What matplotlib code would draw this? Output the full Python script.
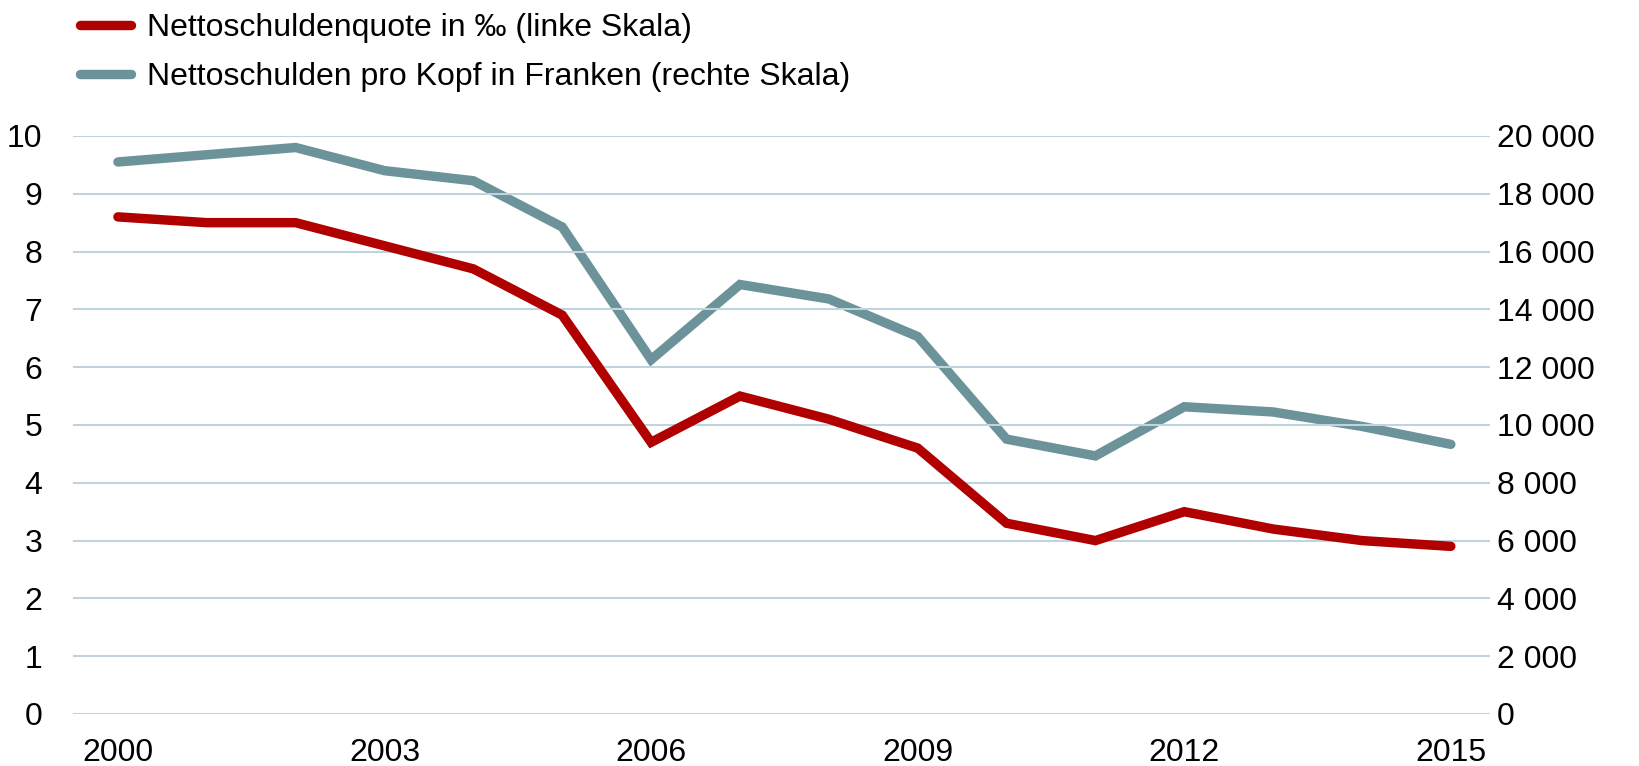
import matplotlib
matplotlib.use("Agg")
import matplotlib.pyplot as plt
from matplotlib.ticker import FuncFormatter

years = list(range(2000, 2016))
quote = [8.6, 8.5, 8.5, 8.1, 7.7, 6.9, 4.7, 5.5, 5.1, 4.6, 3.3, 3.0, 3.5, 3.2, 3.0, 2.9]
pro_kopf = [19100, 19350, 19600, 18800, 18450, 16850, 12260, 14860, 14360, 13060,
            9510, 8930, 10630, 10450, 9950, 9330]
x_ticks = [2000, 2003, 2006, 2009, 2012, 2015]
label_quote = "Nettoschuldenquote in ‰ (linke Skala)"
label_kopf = "Nettoschulden pro Kopf in Franken (rechte Skala)"

RED = "#B00000"
TEAL = "#6C939A"
GRID = "#BFD4DE"

plt.rcParams['font.family'] = ['Liberation Sans', 'DejaVu Sans']
FS = 23

fig = plt.figure(figsize=(16.4, 7.66), dpi=100)
ax = fig.add_axes([0.0445, 0.0679, 0.864, 0.7546])
ax2 = ax.twinx()

ax.set_xlim(1999.494, 2015.44)
ax.set_ylim(0, 10)
ax2.set_ylim(0, 20000)

ax.set_yticks(range(0, 11))
ax2.set_yticks(range(0, 20001, 2000))
ax2.yaxis.set_major_formatter(FuncFormatter(lambda v, p: f"{int(v):,}".replace(",", " ")))
ax.set_xticks(x_ticks)

for a in (ax, ax2):
    for s in a.spines.values():
        s.set_visible(False)
    a.tick_params(length=0, labelsize=FS)
ax.tick_params(axis='y', pad=22)
ax.tick_params(axis='x', pad=17)
ax2.tick_params(axis='y', pad=5)

ax.grid(axis='y', color=GRID, linewidth=1.5)
ax.set_axisbelow(True)

LW = 6.8
l2, = ax2.plot(years, pro_kopf, color=TEAL, linewidth=LW, solid_capstyle='round',
               solid_joinstyle='miter', label=label_kopf, clip_on=False)
l1, = ax.plot(years, quote, color=RED, linewidth=LW, solid_capstyle='round',
              solid_joinstyle='miter', label=label_quote, clip_on=False)
ax.set_zorder(ax2.get_zorder() + 1)
ax.patch.set_visible(False)

leg = fig.legend([l1, l2], [label_quote, label_kopf], loc='upper left',
                 bbox_to_anchor=(0.049, 0.983), frameon=False, fontsize=FS,
                 handlelength=1.6, handletextpad=0.5, labelspacing=0.6,
                 borderpad=0.0, borderaxespad=0.0)
for h in leg.legend_handles:
    h.set_solid_capstyle('round')

fig.savefig("out.png", dpi=100)
